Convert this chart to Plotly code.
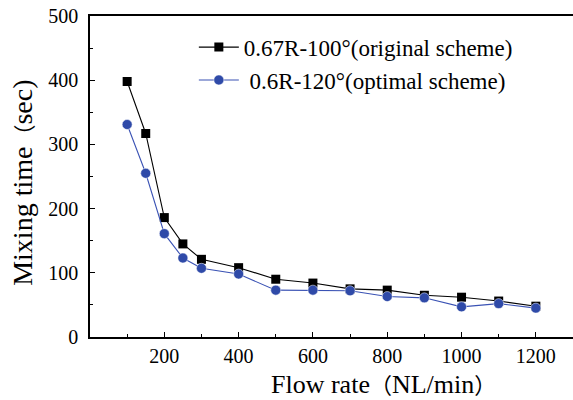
import plotly.graph_objects as go

flow_rate = [100, 150, 200, 250, 300, 400, 500, 600, 700, 800, 900, 1000, 1100, 1200]
original = [398, 317, 186, 145, 121, 108, 90, 84, 75, 73, 65, 62, 56, 48]
optimal = [331, 255, 161, 123, 107, 98, 73, 73, 72, 63, 61, 47, 52, 45]
name_original = "0.67R-100°(original scheme)"
name_optimal = " 0.6R-120°(optimal scheme)"

font_family = "Liberation Serif, Times New Roman, serif"
cjk = "<span style='font-family:Noto Sans CJK SC;font-size:22px'>{}</span>"
serif = "<span style='font-family:Liberation Serif'>{}</span>"
x_title = "Flow rate" + cjk.format("（") + serif.format("NL/min") + cjk.format("）")
y_title = "Mixing time" + cjk.format("（") + serif.format("sec)")

fig = go.Figure()
fig.add_trace(go.Scatter(
    x=flow_rate, y=original, name=name_original, mode="lines+markers",
    line=dict(color="black", width=1.1),
    marker=dict(symbol="square", size=9, color="black"),
))
fig.add_trace(go.Scatter(
    x=flow_rate, y=optimal, name=name_optimal, mode="lines+markers",
    line=dict(color="#3a52b4", width=1.1),
    marker=dict(symbol="circle", size=10, color="#2f4aa8",
                line=dict(color="white", width=0.5)),
))

fig.update_layout(
    width=573, height=400,
    margin=dict(l=90, r=0, t=16, b=63, autoexpand=False),
    paper_bgcolor="white", plot_bgcolor="white",
    font=dict(family=font_family, color="black", size=20),
    showlegend=True,
    legend=dict(x=0.215, y=0.97, xanchor="left", yanchor="top",
                bgcolor="rgba(0,0,0,0)", font=dict(size=23, family=font_family),
                itemwidth=40, tracegroupgap=0),
    xaxis=dict(
        range=[0, 1300], tickmode="array", tickvals=[200, 400, 600, 800, 1000, 1200],
        ticks="inside", ticklen=5, tickwidth=1, tickcolor="black",
        minor=dict(tickvals=[100, 300, 500, 700, 900, 1100], ticks="inside", ticklen=3, tickcolor="black"),
        showline=True, linecolor="black", linewidth=1.5, mirror=True,
        showgrid=False, zeroline=False, automargin=False,
        tickfont=dict(size=20),
    ),
    yaxis=dict(
        range=[0, 500], tickmode="array", tickvals=[0, 100, 200, 300, 400, 500],
        ticks="inside", ticklen=5, tickwidth=1, tickcolor="black",
        minor=dict(tickvals=[50, 150, 250, 350, 450], ticks="inside", ticklen=3, tickcolor="black"),
        showline=True, linecolor="black", linewidth=1.5, mirror=True,
        showgrid=False, zeroline=False, automargin=False,
        tickfont=dict(size=20), ticklabelstandoff=6,
    ),
    annotations=[
        dict(text=x_title, xref="paper", yref="paper", x=0.607, y=-0.143,
             xanchor="center", yanchor="middle", showarrow=False,
             font=dict(size=26, family=font_family)),
        dict(text=y_title, xref="paper", yref="paper", x=-0.141, y=0.48,
             xanchor="center", yanchor="middle", showarrow=False, textangle=-90,
             font=dict(size=28, family=font_family)),
    ],
)

fig.write_html("out.html", config={"displayModeBar": False},
               post_script="document.body.style.margin='0';document.body.style.overflow='hidden';")
